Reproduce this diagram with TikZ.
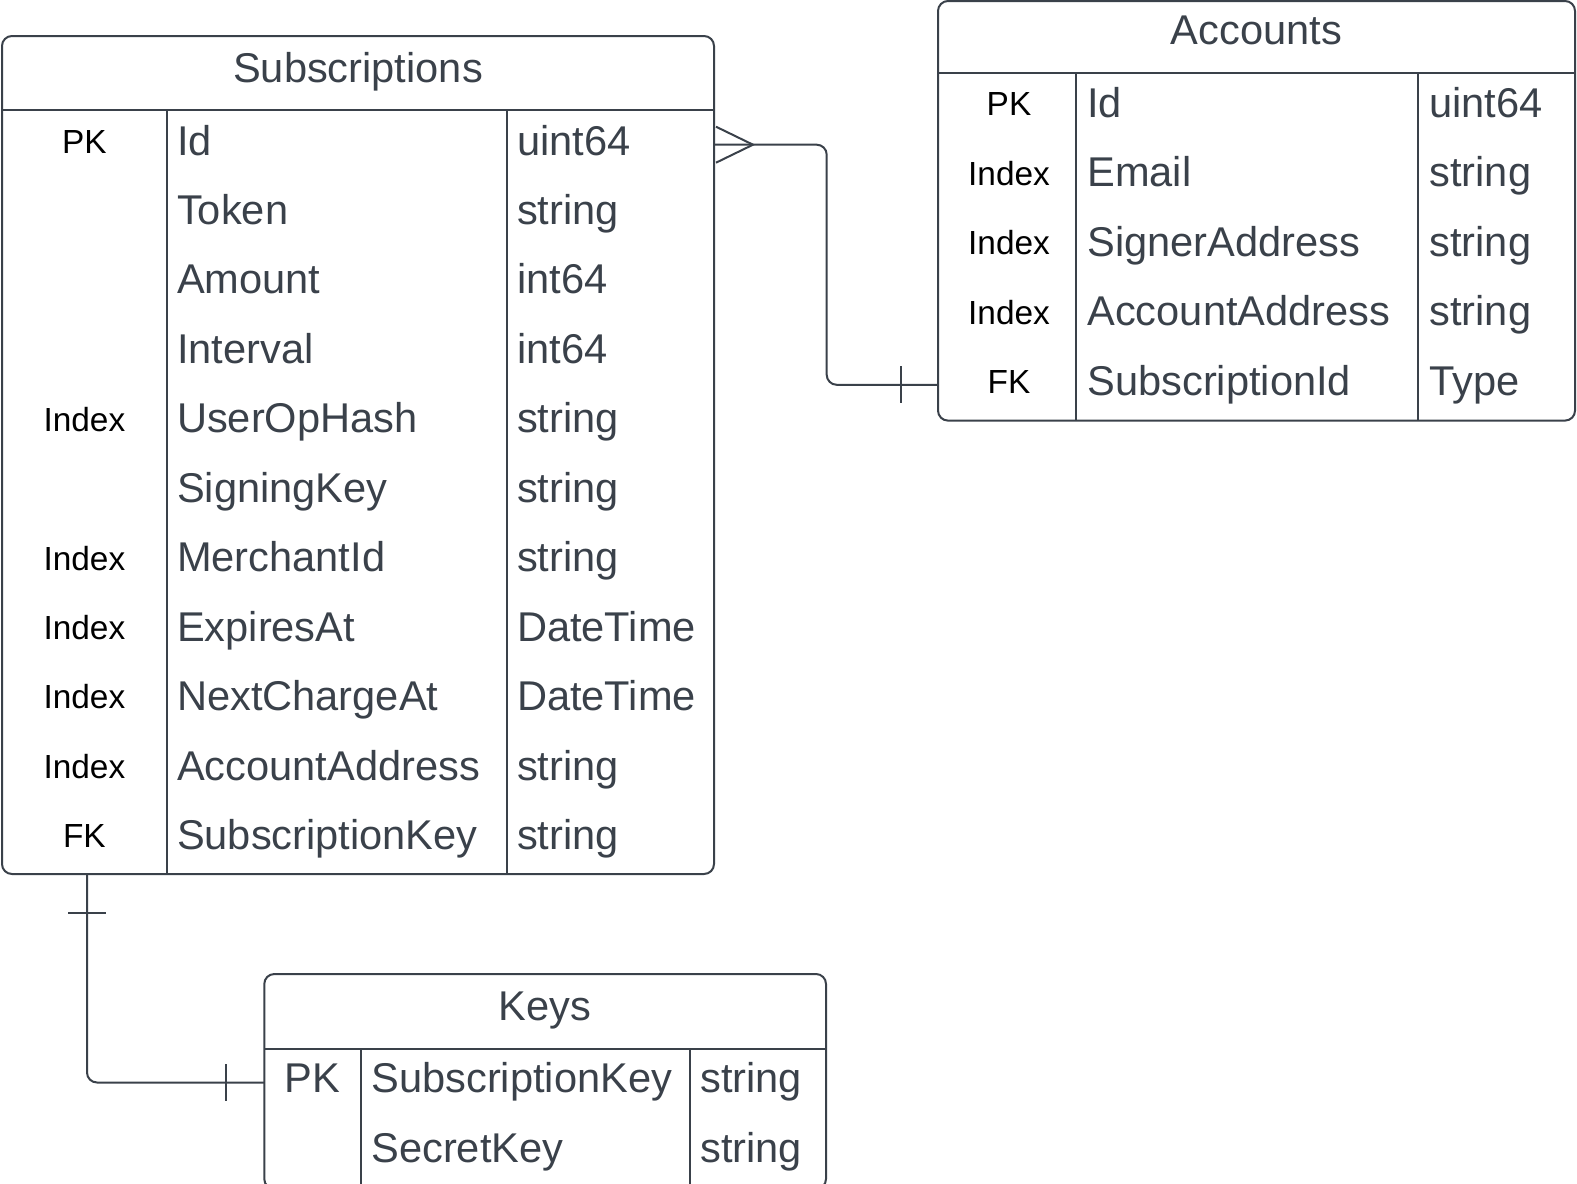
\documentclass[tikz,border=0pt]{standalone}
\usepackage{fontspec}
\setmainfont{Liberation Sans}
\usepackage{tikz}
\usetikzlibrary{fit}
\definecolor{ink}{HTML}{3A414A}

\begin{document}
\begin{tikzpicture}[x=0.5pt,y=-0.5pt,
	ln/.style={draw=ink,line width=1pt},
	tbl/.style={ln,rounded corners=5pt,inner sep=0pt,outer sep=0pt},
	fld/.style={anchor=west,inner sep=0pt,text=ink,font=\fontsize{20.8}{24}\selectfont,text height=14.5pt,text depth=4.2pt},
	ttl/.style={fld,anchor=center},
	keyl/.style={anchor=center,inner sep=0pt,text=black,font=\fontsize{16.7}{19}\selectfont,text height=12pt,text depth=3.4pt}]
	\useasboundingbox (0,0) rectangle (1577,1183);

	\node[tbl,fit={(2,36) (714,874)}] (subs) {};
	\node[tbl,fit={(938,1) (1575,420.6)}] (accts) {};
	\node[tbl,fit={(264.3,974) (826,1189)}] (keys) {};

	\draw[ln] (2,110) -- (714,110);
	\draw[ln] (166.7,110) -- (166.7,874);
	\draw[ln] (506.7,110) -- (506.7,874);
	\draw[ln] (938,73.3) -- (1575,73.3);
	\draw[ln] (1076,73.3) -- (1076,420.6);
	\draw[ln] (1418,73.3) -- (1418,420.6);
	\draw[ln] (264.3,1049) -- (826,1049);
	\draw[ln] (361,1049) -- (361,1189);
	\draw[ln] (689.5,1049) -- (689.5,1189);

	\node[ttl] (subsT) at (358,72) {Subscriptions};
	\node[keyl] (sIdK) at (84.4,144.7) {PK};
	\node[fld] (sId) at (176.7,144.7) {Id};
	\node[fld] (sIdT) at (516.7,144.7) {uint64};
	\node[fld] (sToken) at (176.7,214.2) {Token};
	\node[fld] (sTokenT) at (516.7,214.2) {string};
	\node[fld] (sAmount) at (176.7,283.6) {Amount};
	\node[fld] (sAmountT) at (516.7,283.6) {int64};
	\node[fld] (sInterval) at (176.7,353.1) {Interval};
	\node[fld] (sIntervalT) at (516.7,353.1) {int64};
	\node[keyl] (sHashK) at (84.4,422.5) {Index};
	\node[fld] (sHash) at (176.7,422.5) {UserOpHash};
	\node[fld] (sHashT) at (516.7,422.5) {string};
	\node[fld] (sSign) at (176.7,492) {SigningKey};
	\node[fld] (sSignT) at (516.7,492) {string};
	\node[keyl] (sMerchK) at (84.4,561.4) {Index};
	\node[fld] (sMerch) at (176.7,561.4) {MerchantId};
	\node[fld] (sMerchT) at (516.7,561.4) {string};
	\node[keyl] (sExpK) at (84.4,630.9) {Index};
	\node[fld] (sExp) at (176.7,630.9) {ExpiresAt};
	\node[fld] (sExpT) at (516.7,630.9) {DateTime};
	\node[keyl] (sNextK) at (84.4,700.3) {Index};
	\node[fld] (sNext) at (176.7,700.3) {NextChargeAt};
	\node[fld] (sNextT) at (516.7,700.3) {DateTime};
	\node[keyl] (sAddrK) at (84.4,769.8) {Index};
	\node[fld] (sAddr) at (176.7,769.8) {AccountAddress};
	\node[fld] (sAddrT) at (516.7,769.8) {string};
	\node[keyl] (sKeyK) at (84.4,839.2) {FK};
	\node[fld] (sKey) at (176.7,839.2) {SubscriptionKey};
	\node[fld] (sKeyT) at (516.7,839.2) {string};

	\node[ttl] (acctsT) at (1256.5,34) {Accounts};
	\node[keyl] (aIdK) at (1009,107) {PK};
	\node[fld] (aId) at (1087,107) {Id};
	\node[fld] (aIdT) at (1429,107) {uint64};
	\node[keyl] (aMailK) at (1009,176.5) {Index};
	\node[fld] (aMail) at (1087,176.5) {Email};
	\node[fld] (aMailT) at (1429,176.5) {string};
	\node[keyl] (aSignK) at (1009,245.9) {Index};
	\node[fld] (aSign) at (1087,245.9) {SignerAddress};
	\node[fld] (aSignT) at (1429,245.9) {string};
	\node[keyl] (aAddrK) at (1009,315.4) {Index};
	\node[fld] (aAddr) at (1087,315.4) {AccountAddress};
	\node[fld] (aAddrT) at (1429,315.4) {string};
	\node[keyl] (aSubIdK) at (1009,384.8) {FK};
	\node[fld] (aSubId) at (1087,384.8) {SubscriptionId};
	\node[fld] (aSubIdT) at (1429,384.8) {Type};

	\node[ttl] (keysT) at (545,1010) {Keys};
	\node[ttl] (kSubKeyK) at (312.6,1082.5) {PK};
	\node[fld] (kSubKey) at (371,1082.5) {SubscriptionKey};
	\node[fld] (kSubKeyT) at (700,1082.5) {string};
	\node[fld] (kSecret) at (371,1152) {SecretKey};
	\node[fld] (kSecretT) at (700,1152) {string};

	\draw[ln,rounded corners=5pt] (subs.east |- sId) -- ++(112.7,0) |- (accts.west |- aSubId);
	\draw[ln] (subs.east |- sId) ++(2,-18) -- ++(37,18) -- ++(-37,18);
	\draw[ln] (accts.west |- aSubId) ++(-37,-18.5) -- ++(0,37);

	\draw[ln,rounded corners=5pt] (subs.south west) ++(85,0) |- (keys.west |- kSubKey);
	\draw[ln] (subs.south west) ++(66,38.7) -- ++(38,0);
	\draw[ln] (keys.west |- kSubKey) ++(-38,-18.5) -- ++(0,37);
\end{tikzpicture}
\end{document}
